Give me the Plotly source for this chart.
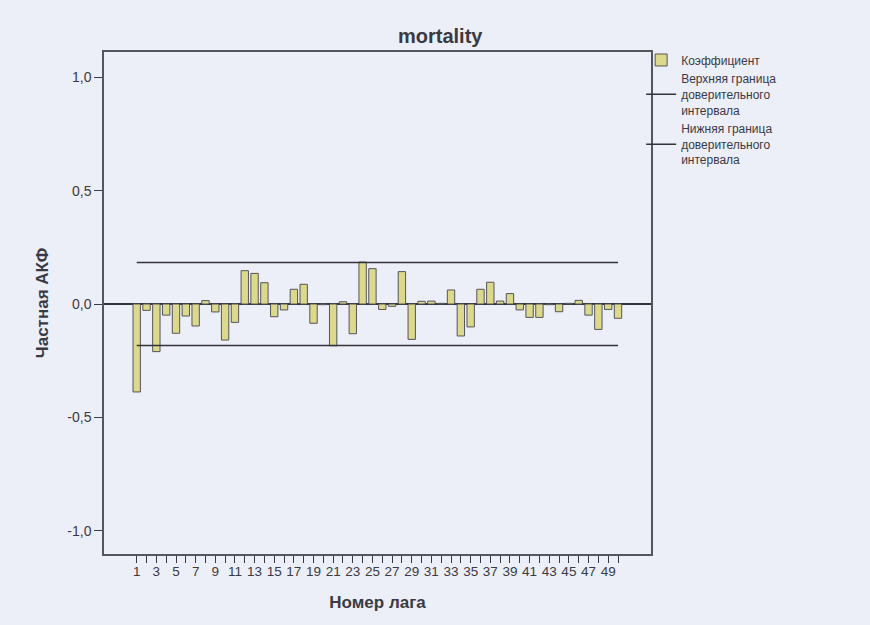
import plotly.graph_objects as go

# Partial autocorrelation function of the "mortality" series, lags 1..50
lags = list(range(1, 51))
pacf = [
    -0.388, -0.028, -0.210, -0.049, -0.129, -0.053, -0.097, 0.015, -0.035, -0.159,
    -0.081, 0.147, 0.135, 0.094, -0.056, -0.026, 0.065, 0.087, -0.085, -0.003,
    -0.184, 0.010, -0.131, 0.185, 0.156, -0.024, -0.010, 0.143, -0.156, 0.012,
    0.013, 0.003, 0.062, -0.141, -0.101, 0.065, 0.096, 0.013, 0.046, -0.026,
    -0.059, -0.059, -0.003, -0.034, 0.003, 0.016, -0.049, -0.112, -0.024, -0.063,
]
ci_upper = [0.183] * len(lags)
ci_lower = [-0.183] * len(lags)

x_tick_text = [str(l) if l % 2 == 1 else "" for l in lags]
y_tick_vals = [-1.0, -0.5, 0.0, 0.5, 1.0]
y_tick_text = ["-1,0", "-0,5", "0,0", "0,5", "1,0"]

bg = "#eceef8"
ink = "#3a3a44"
font_family = "Liberation Sans, Arial, sans-serif"

fig = go.Figure()
fig.add_trace(go.Bar(
    x=lags, y=pacf, name="Коэффициент",
    width=0.75,
    marker=dict(color="#dcd98c", line=dict(color="#55555c", width=1)),
))
fig.add_trace(go.Scatter(
    x=lags, y=ci_upper, mode="lines",
    name="Верхняя граница<br>доверительного<br>интервала",
    line=dict(color="#333338", width=1.5),
))
fig.add_trace(go.Scatter(
    x=lags, y=ci_lower, mode="lines",
    name="Нижняя граница<br>доверительного<br>интервала",
    line=dict(color="#333338", width=1.5),
))

fig.update_layout(
    width=870, height=625,
    margin=dict(l=104, r=219, t=52, b=71),
    paper_bgcolor=bg, plot_bgcolor=bg,
    font=dict(family=font_family, color=ink, size=13),
    title=dict(
        text="<b>mortality</b>", x=0.506, xref="container", xanchor="center",
        y=0.942, yref="container", yanchor="middle",
        font=dict(size=20, color=ink, family=font_family),
    ),
    showlegend=True,
    legend=dict(
        x=0.982, xanchor="left", y=1.013, yanchor="top",
        bgcolor="rgba(0,0,0,0)", font=dict(size=12, color=ink, family=font_family),
        itemwidth=30, tracegroupgap=0,
    ),
    xaxis=dict(
        range=[-2.33, 53.36],
        tickmode="array", tickvals=lags, ticktext=x_tick_text,
        ticks="outside", ticklen=7, tickcolor=ink, tickwidth=1,
        ticklabelstandoff=-3,
        showline=True, linecolor="#55555c", linewidth=1.5, mirror=True,
        showgrid=False, zeroline=False,
        tickfont=dict(size=13.5),
        title=dict(text="<b>Номер лага</b>", font=dict(size=17), standoff=18),
    ),
    yaxis=dict(
        range=[-1.103, 1.112],
        tickmode="array", tickvals=y_tick_vals, ticktext=y_tick_text,
        ticks="outside", ticklen=8, tickcolor=ink, tickwidth=1,
        showline=True, linecolor="#55555c", linewidth=1.5, mirror=True,
        showgrid=False,
        zeroline=True, zerolinecolor="#333338", zerolinewidth=1.5,
        tickfont=dict(size=14),
        title=dict(text="<b>Частная АКФ</b>", font=dict(size=17), standoff=14),
    ),
)

fig.write_html("out.html")
